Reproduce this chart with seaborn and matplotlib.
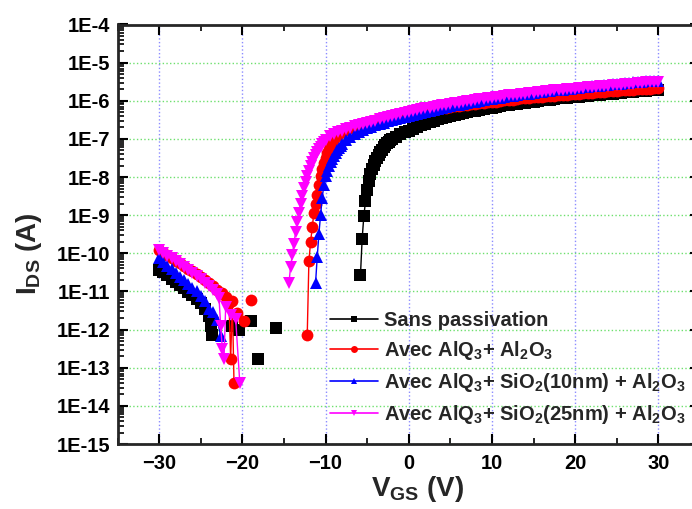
import matplotlib
matplotlib.use("Agg")
import matplotlib.pyplot as plt
import numpy as np
import pandas as pd
import seaborn as sns
from matplotlib.lines import Line2D
from matplotlib.ticker import FuncFormatter, LogLocator, MultipleLocator, NullFormatter

# ---------------------------------------------------------
# Data (log10 of I_DS in A)
# ---------------------------------------------------------
SERIES = [
    "Sans passivation",
    "Avec AlQ$_3$+ Al$_2$O$_3$",
    "Avec AlQ$_3$+ SiO$_2$(10nm) + Al$_2$O$_3$",
    "Avec AlQ$_3$+ SiO$_2$(25nm) + Al$_2$O$_3$",
]
COLORS = ["#000000", "#ff0000", "#0000ff", "#ff00ff"]
MARKERS = ["s", "o", "^", "v"]

# --- Sans passivation
black_off_vgs = [-30.0, -29.5, -29.0, -28.5, -28.0, -27.5, -27.0, -26.5, -26.0, -25.5,
                 -25.0, -24.5, -24.0, -23.8, -23.6]
black_off_log = [-10.43, -10.50, -10.58, -10.67, -10.75, -10.84, -10.92, -11.01, -11.10, -11.19,
                 -11.30, -11.45, -11.65, -11.91, -12.13]
black_iso_vgs = [-21.2, -20.4, -18.9, -18.1, -16.0]
black_iso_log = [-11.90, -12.00, -11.78, -12.78, -11.95]
black_on_vgs = np.concatenate([np.linspace(-5.8, -2.0, 20), np.linspace(-1.5, 30, 64)])
black_on_log = [-10.56, -9.62, -9.03, -8.64, -8.35, -8.10, -7.93, -7.80, -7.68, -7.58,
                -7.49, -7.41, -7.34, -7.28, -7.22, -7.17, -7.12, -7.08, -7.04, -7.01,
                -6.94, -6.88, -6.83,
                -6.78, -6.73, -6.68, -6.64, -6.60, -6.56, -6.52, -6.49, -6.46, -6.43,
                -6.40, -6.37, -6.35, -6.32, -6.30, -6.28, -6.26, -6.24, -6.22, -6.20,
                -6.18, -6.16, -6.14, -6.12, -6.11, -6.09, -6.08, -6.06, -6.05, -6.03,
                -6.02, -6.01, -5.99, -5.98, -5.97, -5.95, -5.94, -5.93, -5.92, -5.91,
                -5.90, -5.89, -5.88, -5.87, -5.86, -5.85, -5.84, -5.83, -5.82, -5.81,
                -5.80, -5.79, -5.78, -5.77, -5.76, -5.755, -5.75, -5.74, -5.73, -5.72,
                -5.71]

# --- Avec AlQ3 + Al2O3
red_off_vgs = [-30.0, -29.5, -29.0, -28.5, -28.0, -27.5, -27.0, -26.5, -26.0, -25.5,
               -25.0, -24.5, -24.0, -23.5, -23.0, -22.5, -22.0, -21.6, -21.4, -21.2, -21.0]
red_off_log = [-9.90, -9.98, -10.05, -10.12, -10.19, -10.26, -10.33, -10.40, -10.47, -10.54,
               -10.62, -10.70, -10.78, -10.87, -10.95, -11.05, -11.15, -11.30, -12.76, -11.26, -13.39]
red_iso_vgs = [-20.6, -19.8, -19.0]
red_iso_log = [-11.56, -11.78, -11.23]
red_on_vgs = np.concatenate([np.linspace(-12.2, -9.0, 17), np.linspace(-8.5, 30, 78)])
red_on_log = [-12.15, -10.21, -9.71, -9.32, -8.94, -8.70, -8.46, -8.20, -7.98, -7.80,
              -7.64, -7.50, -7.37, -7.26, -7.16, -7.07, -7.00,
              -6.90, -6.82, -6.76, -6.71, -6.66, -6.62, -6.59, -6.56, -6.53, -6.50,
              -6.48, -6.46, -6.44, -6.42, -6.40, -6.39, -6.37,
              -6.36, -6.34, -6.32, -6.30, -6.27, -6.25, -6.24, -6.22, -6.20, -6.18,
              -6.17, -6.15, -6.14, -6.12, -6.11, -6.09, -6.08, -6.06, -6.05, -6.04,
              -6.03, -6.02, -6.00, -5.99, -5.98, -5.97, -5.96, -5.94, -5.93, -5.92,
              -5.91, -5.90, -5.89, -5.88, -5.87, -5.865, -5.86, -5.85, -5.84, -5.83,
              -5.82, -5.81, -5.80, -5.795, -5.79, -5.78, -5.77, -5.76, -5.75, -5.74,
              -5.735, -5.73, -5.72, -5.71, -5.705, -5.70, -5.70, -5.69, -5.68, -5.675,
              -5.67]

# --- Avec AlQ3 + SiO2(10nm) + Al2O3
blue_off_vgs = [-30.0, -29.5, -29.0, -28.5, -28.0, -27.5, -27.0, -26.5, -26.0, -25.5,
                -25.0, -24.5, -24.0, -23.5, -23.0, -22.6]
blue_off_log = [-10.12, -10.22, -10.32, -10.42, -10.52, -10.62, -10.71, -10.80, -10.90, -11.00,
                -11.12, -11.25, -11.45, -11.55, -11.75, -12.17]
blue_on_vgs = np.concatenate([np.linspace(-11.2, -8.0, 17), np.linspace(-7.5, 30, 76)])
blue_on_log = [-10.78, -10.10, -9.50, -9.00, -8.55, -8.20, -7.98, -7.83, -7.71, -7.61,
               -7.52, -7.44, -7.37, -7.30, -7.24, -7.18, -7.13,
               -7.03, -6.95, -6.88, -6.82, -6.77, -6.72, -6.68, -6.64, -6.60, -6.57,
               -6.54, -6.51, -6.48, -6.46, -6.43,
               -6.41, -6.38, -6.35, -6.32, -6.29, -6.26, -6.24, -6.21, -6.19, -6.16,
               -6.14, -6.12, -6.10, -6.08, -6.06, -6.04, -6.02, -6.00, -5.98, -5.965,
               -5.95, -5.93, -5.915, -5.90, -5.88, -5.865, -5.85, -5.835, -5.82, -5.81,
               -5.795, -5.78, -5.77, -5.755, -5.745, -5.73, -5.72, -5.71, -5.695, -5.68,
               -5.67, -5.66, -5.645, -5.63, -5.62, -5.61, -5.60, -5.59, -5.58, -5.57,
               -5.56, -5.55, -5.54, -5.53, -5.52, -5.51, -5.50, -5.49, -5.48, -5.475,
               -5.47]

# --- Avec AlQ3 + SiO2(25nm) + Al2O3
mag_off_vgs = [-30.0, -29.5, -29.0, -28.5, -28.0, -27.5, -27.0, -26.5, -26.0, -25.5,
               -25.0, -24.5, -24.0, -23.5, -23.0, -22.8, -22.6, -22.4, -22.2, -22.0,
               -21.4, -20.8, -20.3]
mag_off_log = [-9.92, -9.99, -10.06, -10.13, -10.20, -10.28, -10.36, -10.44, -10.52, -10.60,
               -10.68, -10.77, -10.86, -10.96, -11.06, -11.17, -11.91, -12.50, -12.76, -11.40,
               -11.63, -11.72, -13.41]
mag_on_vgs = np.concatenate([np.linspace(-14.4, -10.0, 23), np.linspace(-9.5, 30, 80)])
mag_on_log = [-10.78, -10.35, -10.05, -9.75, -9.45, -9.18, -8.93, -8.70, -8.50, -8.30,
              -8.12, -7.97, -7.84, -7.72, -7.61, -7.51, -7.42, -7.34, -7.27, -7.20,
              -7.14, -7.09, -7.04,
              -6.93, -6.88, -6.83, -6.79, -6.75, -6.71, -6.67, -6.64, -6.61, -6.58,
              -6.55, -6.52, -6.49, -6.46, -6.43, -6.40, -6.37, -6.35, -6.32,
              -6.30, -6.27, -6.25, -6.22, -6.20, -6.18, -6.16, -6.14, -6.12, -6.10,
              -6.08, -6.06, -6.05, -6.03, -6.01, -6.00, -5.98, -5.96, -5.95, -5.93,
              -5.92, -5.90, -5.89, -5.88, -5.86, -5.85, -5.84, -5.82, -5.81, -5.80,
              -5.79, -5.77, -5.76, -5.75, -5.74, -5.73, -5.72, -5.71, -5.70, -5.69,
              -5.68, -5.67, -5.66, -5.65, -5.64, -5.63, -5.62, -5.61, -5.60, -5.59,
              -5.585, -5.58, -5.57, -5.56, -5.55, -5.54, -5.53, -5.52, -5.515, -5.51,
              -5.50]

# each tuple is one connected run of points (gaps = no valid current)
segments = {
    SERIES[0]: [(black_off_vgs, black_off_log)]
               + [([v], [l]) for v, l in zip(black_iso_vgs, black_iso_log)]
               + [(black_on_vgs, black_on_log)],
    SERIES[1]: [(red_off_vgs, red_off_log)]
               + [([v], [l]) for v, l in zip(red_iso_vgs, red_iso_log)]
               + [(red_on_vgs, red_on_log)],
    SERIES[2]: [(blue_off_vgs, blue_off_log), (blue_on_vgs, blue_on_log)],
    SERIES[3]: [(mag_off_vgs, mag_off_log), (mag_on_vgs, mag_on_log)],
}

frames = []
seg_id = 0
for name, segs in segments.items():
    for vgs, logs in segs:
        assert len(vgs) == len(logs), (name, len(vgs), len(logs))
        frames.append(pd.DataFrame({
            "VGS": np.asarray(vgs, dtype=float),
            "IDS": 10.0 ** np.asarray(logs, dtype=float),
            "device": name,
            "seg": seg_id,
        }))
        seg_id += 1
df = pd.concat(frames, ignore_index=True)

# ---------------------------------------------------------
# Style
# ---------------------------------------------------------
sns.set_theme(style="ticks")
plt.rcParams["font.family"] = ["Liberation Sans", "DejaVu Sans"]
plt.rcParams["font.weight"] = "bold"
plt.rcParams["mathtext.fontset"] = "custom"
plt.rcParams["mathtext.rm"] = "Liberation Sans:bold"
plt.rcParams["mathtext.it"] = "Liberation Sans:bold"
plt.rcParams["mathtext.bf"] = "Liberation Sans:bold"
plt.rcParams["mathtext.default"] = "rm"

fig = plt.figure(figsize=(6.92, 5.09), dpi=100)
# right spine sits just past the image edge, as in the original export
ax = fig.add_axes([117.5 / 692, 65 / 509, 582.5 / 692, 419.5 / 509])
ax.set_yscale("log")

sns.lineplot(
    data=df, x="VGS", y="IDS", hue="device", style="device", units="seg",
    estimator=None, sort=False, hue_order=SERIES, style_order=SERIES,
    palette=COLORS, markers=MARKERS, dashes=False, markersize=8.5,
    markeredgewidth=0, linewidth=1.0, legend=False, ax=ax,
)

ax.set_xlim(-35, 35)
ax.set_ylim(1e-15, 1e-4)
ax.xaxis.set_major_locator(MultipleLocator(10))
ax.xaxis.set_minor_locator(MultipleLocator(5))
ax.yaxis.set_major_locator(LogLocator(base=10, numticks=20))
ax.yaxis.set_minor_locator(LogLocator(base=10, subs=np.arange(2, 10), numticks=20))
ax.yaxis.set_minor_formatter(NullFormatter())
ax.yaxis.set_major_formatter(FuncFormatter(lambda v, p: f"1E{int(round(np.log10(v)))}"))

ax.set_axisbelow(True)
ax.grid(axis="x", which="major", color="#8c8cff", linestyle=":", linewidth=1.0)
ax.grid(axis="y", which="major", color="#6ee06e", linestyle=":", linewidth=1.0)

for sp in ax.spines.values():
    sp.set_linewidth(2)
ax.tick_params(which="both", direction="in", top=True, right=True, width=1.5, colors="black")
ax.tick_params(which="major", length=7)
ax.tick_params(which="minor", length=4, width=1.2)
ax.tick_params(axis="y", labelsize=14.5, pad=5)
ax.tick_params(axis="x", labelsize=14.5, pad=7)
for lab in ax.get_xticklabels() + ax.get_yticklabels():
    lab.set_fontweight("bold")

ax.set_xlabel("")
ax.set_ylabel("")
fig.text(417 / 692, 1 - 489 / 509, "V$_{GS}$ (V)", ha="center", va="center",
         fontsize=20, fontweight="bold")
fig.text(29 / 692, 1 - 254 / 509, "I$_{DS}$ (A)", ha="center", va="center",
         rotation=90, fontsize=20, fontweight="bold")

handles = [
    Line2D([], [], color=c, marker=m, markersize=5, markeredgewidth=0, linewidth=1.2)
    for c, m in zip(COLORS, MARKERS)
]
ax.legend(
    handles, SERIES, loc="upper left", bbox_to_anchor=(330 / 692, 1 - 311 / 509),
    bbox_transform=fig.transFigure, frameon=False, borderpad=0,
    borderaxespad=0, handlelength=2.4, handletextpad=0.3, labelspacing=0.45,
    prop={"weight": "bold", "size": 14.5},
)

fig.savefig("out.png", dpi=100)
